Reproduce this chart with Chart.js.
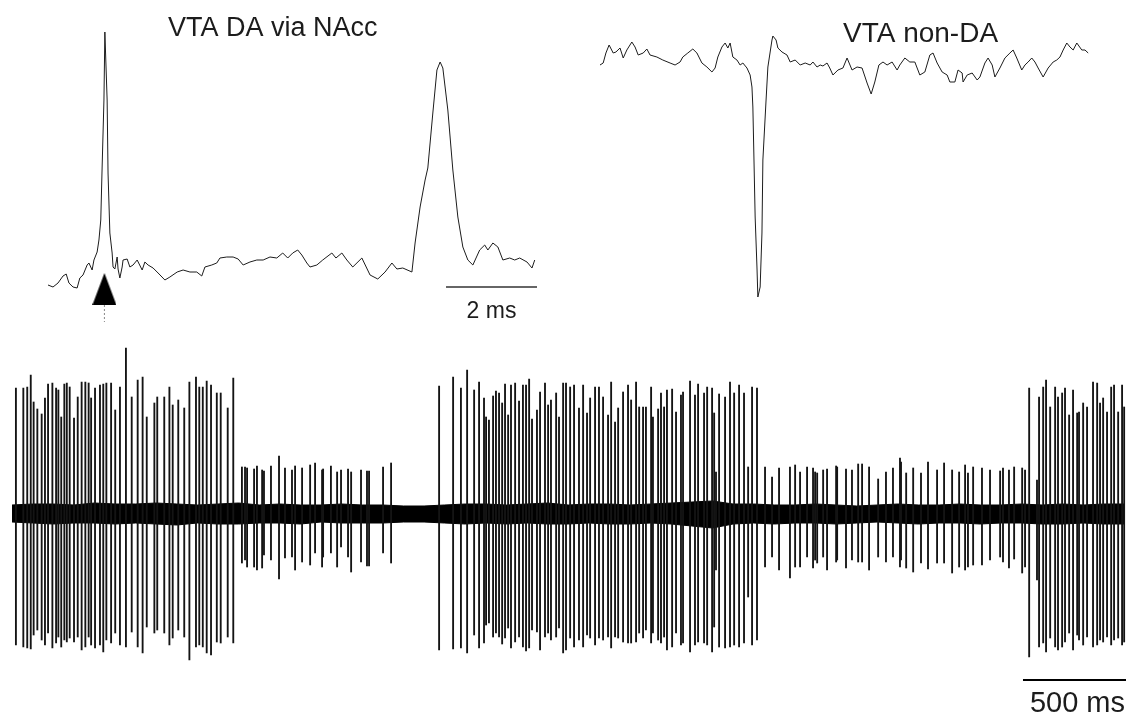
<!DOCTYPE html>
<html>
<head>
<meta charset="utf-8">
<title>VTA DA via NAcc / VTA non-DA</title>
<script src="https://cdn.jsdelivr.net/npm/chart.js"></script>
<style>
  html, body { margin: 0; padding: 0; background: #fff; }
  body { width: 1126px; height: 715px; position: relative; overflow: hidden; }
  canvas { position: absolute; }
  #trazoDA { left: 40px; top: 0; }
  #trazoNoDA { left: 595px; top: 0; }
  #registro { left: 0; top: 340px; }
</style>
</head>
<body>
<canvas id="trazoDA" width="510" height="340"></canvas>
<canvas id="trazoNoDA" width="500" height="340"></canvas>
<canvas id="registro" width="1126" height="375"></canvas>

<script>
// ---- VTA DA via NAcc (antidromic spike), time in ms, amplitude in a.u.
const daTime = [0.00,0.11,0.22,0.33,0.40,0.46,0.55,0.64,0.70,0.77,0.86,0.90,0.97,1.01,1.08,1.12,1.16,1.19,1.23,1.25,
  1.30,1.32,1.36,1.41,1.43,1.47,1.52,1.54,1.58,1.63,1.65,1.74,1.80,1.87,1.96,2.07,2.13,2.20,2.31,2.42,
  2.57,2.68,2.84,2.97,3.12,3.27,3.38,3.45,3.60,3.71,3.78,3.93,4.07,4.18,4.29,4.44,4.59,4.73,4.88,5.03,
  5.16,5.27,5.38,5.49,5.58,5.69,5.76,5.91,6.04,6.24,6.33,6.46,6.57,6.70,6.90,7.08,7.25,7.41,7.56,7.67,
  7.80,8.00,8.07,8.18,8.29,8.35,8.46,8.55,8.62,8.68,8.79,8.90,9.01,9.12,9.23,9.34,9.49,9.60,9.67,9.78,
  9.89,10.00,10.15,10.26,10.37,10.53,10.64,10.70];
const daAmp = [0,-2,2,9,11,2,-2,-3,7,10,20,22,15,25,33,45,65,118,185,253,
  185,112,52,32,18,16,28,16,7,18,25,26,18,20,25,15,23,20,17,12,
  5,8,13,15,13,13,9,18,20,22,27,28,28,26,20,23,25,25,28,27,
  32,27,32,35,30,22,18,20,25,32,27,32,25,18,27,10,6,13,22,16,
  17,13,42,78,105,117,172,215,223,217,175,115,68,38,25,20,35,40,35,42,
  38,25,27,25,27,23,17,25];
const stimTime = 1.24;      // stimulation (arrow)
const daBar = [8.75, 10.75]; // 2 ms scale bar

// ---- VTA non-DA spike
const nonDaTime = [0.00,0.07,0.13,0.20,0.29,0.35,0.44,0.51,0.59,0.70,
  0.77,0.84,0.95,1.03,1.10,1.25,1.38,1.54,1.65,1.76,
  1.82,1.93,2.04,2.13,2.24,2.35,2.46,2.53,2.59,2.68,
  2.75,2.81,2.86,2.92,3.01,3.08,3.14,3.23,3.30,3.34,
  3.36,3.38,3.41,3.45,3.47,3.52,3.56,3.58,3.65,3.69,
  3.78,3.80,3.87,3.91,4.00,4.11,4.18,4.29,4.40,4.51,
  4.62,4.68,4.77,4.84,4.90,4.99,5.05,5.12,5.23,5.34,
  5.43,5.54,5.65,5.76,5.87,5.96,6.04,6.13,6.22,6.31,
  6.42,6.53,6.59,6.70,6.81,6.92,7.03,7.14,7.25,7.32,
  7.41,7.52,7.63,7.69,7.80,7.87,7.96,7.98,8.07,8.18,
  8.29,8.35,8.46,8.53,8.62,8.68,8.79,8.90,9.01,9.08,
  9.16,9.27,9.34,9.41,9.49,9.56,9.63,9.74,9.85,9.96,
  10.04,10.11,10.18,10.26,10.33,10.40,10.48,10.59,10.66,10.73];
const nonDaAmp = [0,2,12,20,12,13,17,7,15,23,
  18,10,12,16,10,8,5,2,0,3,
  8,12,16,12,2,-2,-7,-3,8,18,
  22,17,22,8,5,0,2,-3,-10,-22,
  -42,-85,-152,-202,-232,-222,-168,-95,-35,-2,
  25,29,25,17,13,10,3,5,0,2,
  0,3,-2,0,-1,2,-3,-10,-5,-3,
  7,-5,-2,-3,-18,-29,-17,0,3,0,
  3,-5,0,7,3,3,-10,-7,10,12,
  2,-7,-10,-17,-17,-5,-8,-17,-10,-8,
  -15,-12,2,7,0,-12,-3,7,12,15,
  7,-5,0,3,7,3,-3,-12,-3,3,
  5,8,15,22,18,15,22,15,15,12];

// ---- long recording: spike times (ms), positive and negative peaks (a.u.)
const spikeTimes = [
  // burst 1
  19,55,74,91,105,123,144,160,175,196,214,225,239,254,266,280,301,319,338,356,
  372,384,403,427,443,458,481,501,524,553,581,610,634,654,691,705,739,764,780,807,
  836,861,893,909,926,945,966,994,1013,1047,1074,
  // small spikes
  1116,1131,1141,1175,1189,1214,1223,1257,1296,1325,1359,1374,1408,1447,1471,1505,1510,1548,1578,1597,
  1631,1646,1694,1723,1733,1801,1840,
  // burst 2
  2073,2141,2179,2209,2243,2267,2291,2301,2315,2335,2349,2364,2379,2393,2408,2422,2442,2461,2480,2495,
  2510,2524,2548,2563,2587,2602,2616,2641,2655,2675,2689,2709,2728,2752,2772,2791,2806,2830,2849,2869,
  2893,2908,2927,2942,2966,2990,3005,3029,3044,3063,3077,3102,3111,3136,3150,3165,3179,3204,3223,3247,
  3257,3291,3315,3330,3359,3374,3398,3408,3417,3432,3461,3485,3505,3529,3553,3573,3592,3616,
  // small spikes
  3655,3689,3723,3776,3801,3825,3859,3888,3898,3908,3937,3956,4000,4005,4048,4077,4107,4126,4160,4204,
  4242,4276,4310,4315,4340,4374,4412,4446,4490,4524,4563,4597,4626,4640,4665,4708,4747,4796,4810,4839,
  4864,4903,4917,
  // burst 3
  4937,4975,4985,5005,5019,5039,5063,5077,5097,5111,5131,5150,5170,5179,5199,5218,5247,5267,5281,5296,
  5315,5335,5349,5369,5388,5398];
const spikeUp = [
  126,126,127,139,112,105,100,116,130,131,126,124,97,130,131,127,96,117,132,132,
  131,116,126,129,130,131,131,104,127,166,117,134,137,97,111,117,117,127,109,114,
  106,132,137,127,127,133,129,121,121,106,136,
  47,47,46,45,48,44,43,48,58,46,44,48,46,49,51,44,45,48,42,44,
  45,42,44,43,43,47,51,
  128,137,126,144,124,132,116,97,94,118,123,121,111,130,99,129,131,113,129,129,
  135,95,104,122,131,109,114,121,97,131,131,127,129,106,129,101,116,127,127,117,
  99,132,92,106,122,129,114,132,107,107,107,127,97,105,121,107,124,125,102,119,
  122,133,119,130,121,127,126,101,42,120,117,132,121,129,121,47,127,126,
  47,37,46,47,49,42,47,46,42,41,44,45,48,47,45,44,50,50,47,35,
  42,46,56,52,41,46,41,52,44,51,44,42,49,41,47,46,44,43,46,44,
  47,46,44,
  126,34,117,127,134,107,127,117,121,126,99,124,101,102,111,107,132,131,111,116,
  102,127,129,102,129,107];
const spikeDown = [
  -131,-133,-134,-135,-121,-116,-126,-131,-119,-134,-129,-123,-133,-126,-128,-124,-128,-123,-136,-133,
  -123,-131,-134,-131,-138,-126,-129,-119,-131,-133,-118,-133,-139,-113,-119,-116,-119,-131,-124,-116,
  -123,-146,-133,-131,-133,-139,-141,-128,-129,-123,-129,
  -49,-46,-53,-53,-56,-54,-41,-46,-65,-44,-43,-56,-48,-51,-39,-53,-43,-39,-53,-33,
  -43,-58,-48,-52,-52,-39,-49,
  -136,-135,-134,-139,-121,-134,-129,-111,-109,-123,-119,-123,-130,-124,-114,-134,-128,-123,-133,-137,
  -134,-116,-118,-136,-123,-119,-126,-123,-114,-139,-136,-124,-133,-126,-133,-121,-124,-131,-124,-126,
  -123,-134,-123,-124,-128,-129,-129,-128,-119,-124,-116,-129,-119,-126,-129,-123,-136,-133,-119,-131,
  -129,-138,-131,-128,-129,-131,-138,-113,-56,-133,-134,-133,-131,-133,-129,-83,-131,-126,
  -53,-43,-56,-64,-53,-53,-43,-54,-46,-49,-43,-56,-48,-46,-54,-46,-48,-48,-56,-43,
  -48,-43,-53,-46,-54,-58,-49,-55,-49,-49,-59,-53,-56,-53,-51,-51,-46,-43,-48,-54,
  -45,-59,-53,
  -143,-66,-133,-129,-138,-124,-133,-136,-133,-128,-119,-136,-121,-126,-131,-123,-133,-131,-126,-128,
  -123,-131,-126,-124,-131,-128];

// background noise envelope of the recording
const noiseTimes = [0,100,200,300,400,500,600,700,800,900,1000,1100,1200,1300,1400,1500,1600,1700,1800,1900,
  2000,2100,2200,2300,2400,2500,2600,2700,2800,2900,3000,3100,3200,3300,3400,3500,3600,3700,3800,3900,
  4000,4100,4200,4300,4400,4500,4600,4700,4800,4900,5000,5100,5200,5300,5400];
const noiseUp = [9,10,10,9,11,10,10,11,10,9,10,11,9,10,9,9,10,9,9,8,
  8,9,10,10,9,10,11,9,10,10,9,10,11,12,13,10,10,9,9,10,
  9,8,9,10,9,9,10,9,9,10,9,10,9,10,10];
const noiseDown = [-8,-9,-10,-9,-9,-10,-9,-10,-11,-9,-10,-10,-9,-9,-10,-8,-9,-9,-9,-8,
  -8,-9,-10,-9,-10,-9,-10,-10,-9,-10,-10,-9,-10,-12,-14,-10,-9,-10,-9,-9,
  -10,-9,-8,-9,-10,-9,-9,-10,-9,-9,-10,-10,-9,-10,-10];
const recBar = [4907, 5407]; // 500 ms scale bar

const FONT = '"Liberation Sans", Arial, Helvetica, sans-serif';
const INK = '#1c1c1c';

// small plugin to write labels on the canvas
function notas(items) {
  return {
    id: 'notas',
    afterDraw(chart) {
      const ctx = chart.ctx;
      items.forEach(it => {
        ctx.save();
        ctx.font = it.font;
        ctx.fillStyle = INK;
        ctx.textAlign = it.align || 'left';
        ctx.textBaseline = 'alphabetic';
        const x = it.xValue !== undefined ? chart.scales.x.getPixelForValue(it.xValue) + (it.dx || 0) : it.x;
        const y = it.yValue !== undefined ? chart.scales.y.getPixelForValue(it.yValue) + (it.dy || 0) : it.y;
        ctx.fillText(it.text, x, y);
        ctx.restore();
      });
    }
  };
}

function ejesOcultos(xMin, xMax, yMin, yMax) {
  return {
    x: { type: 'linear', display: false, min: xMin, max: xMax, offset: false },
    y: { type: 'linear', display: false, min: yMin, max: yMax }
  };
}

const baseOpts = {
  responsive: false,
  animation: false,
  events: [],
  plugins: { legend: { display: false }, tooltip: { enabled: false }, title: { display: false } }
};

document.addEventListener('DOMContentLoaded', () => {
  // triangle marker for the stimulation
  const flecha = document.createElement('canvas');
  flecha.width = 24; flecha.height = 32;
  const fctx = flecha.getContext('2d');
  fctx.fillStyle = '#000';
  fctx.beginPath();
  fctx.moveTo(12, 0); fctx.lineTo(24, 32); fctx.lineTo(0, 32); fctx.closePath();
  fctx.fill();

  // ---- top left trace
  new Chart(document.getElementById('trazoDA').getContext('2d'), {
    type: 'line',
    data: {
      datasets: [
        {
          data: daTime.map((t, i) => ({ x: t, y: daAmp[i] })),
          borderColor: INK, borderWidth: 1, pointRadius: 0, tension: 0, clip: false
        },
        {
          data: [{ x: stimTime, y: -4 }],
          showLine: false, pointStyle: flecha, pointRadius: 12, clip: false
        },
        {
          data: [{ x: stimTime, y: -20 }, { x: stimTime, y: -37 }],
          borderColor: '#888', borderWidth: 1, borderDash: [2, 2], pointRadius: 0
        },
        {
          data: daBar.map(t => ({ x: t, y: -2 })),
          borderColor: '#333', borderWidth: 1.5, pointRadius: 0, clip: false
        }
      ]
    },
    options: {
      ...baseOpts,
      layout: { autoPadding: false, padding: { left: 8, right: 13, top: 0, bottom: 0 } },
      scales: ejesOcultos(0, 10.75, -55, 285)
    },
    plugins: [notas([
      { text: 'VTA DA via NAcc', font: '27px ' + FONT, x: 128, y: 36 },
      { text: '2 ms', font: '23px ' + FONT, xValue: (daBar[0] + daBar[1]) / 2, align: 'center', yValue: -2, dy: 31 }
    ])]
  });

  // ---- top right trace
  new Chart(document.getElementById('trazoNoDA').getContext('2d'), {
    type: 'line',
    data: {
      datasets: [{
        data: nonDaTime.map((t, i) => ({ x: t, y: nonDaAmp[i] })),
        borderColor: INK, borderWidth: 1, pointRadius: 0, tension: 0, clip: false
      }]
    },
    options: {
      ...baseOpts,
      layout: { autoPadding: false, padding: { left: 5, right: 5, top: 0, bottom: 0 } },
      scales: ejesOcultos(0, 10.77, -275, 65)
    },
    plugins: [notas([
      { text: 'VTA non-DA', font: '28px ' + FONT, x: 248, y: 42 }
    ])]
  });

  // ---- bottom: long recording
  new Chart(document.getElementById('registro').getContext('2d'), {
    type: 'bar',
    data: {
      datasets: [
        {
          type: 'bar',
          data: spikeTimes.map((t, i) => ({ x: t, y: [spikeDown[i], spikeUp[i]] })),
          backgroundColor: '#141414', borderWidth: 0, barThickness: 1.2, grouped: false
        },
        {
          type: 'line',
          data: noiseTimes.map((t, i) => ({ x: t, y: noiseUp[i] })),
          borderColor: '#000', borderWidth: 1, pointRadius: 0, tension: 0, fill: false
        },
        {
          type: 'line',
          data: noiseTimes.map((t, i) => ({ x: t, y: noiseDown[i] })),
          borderColor: '#000', borderWidth: 1, pointRadius: 0, tension: 0,
          fill: '-1', backgroundColor: '#000'
        },
        {
          type: 'line',
          data: recBar.map(t => ({ x: t, y: -166 })),
          borderColor: '#000', borderWidth: 2, pointRadius: 0, clip: false
        }
      ]
    },
    options: {
      ...baseOpts,
      layout: { autoPadding: false, padding: { left: 12, right: 0, top: 0, bottom: 0 } },
      scales: ejesOcultos(0, 5407, -201, 174)
    },
    plugins: [notas([
      { text: '500 ms', font: '29px ' + FONT, xValue: recBar[1], dx: -1, align: 'right', yValue: -166, dy: 32 }
    ])]
  });
});
</script>
</body>
</html>
